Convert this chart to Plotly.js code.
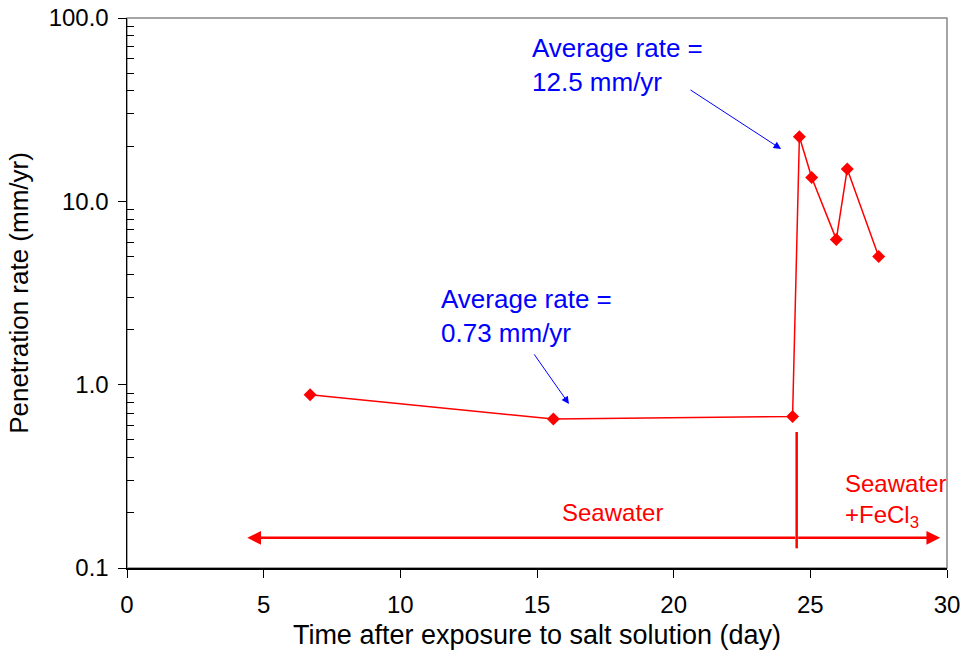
<!DOCTYPE html>
<html>
<head>
<meta charset="utf-8">
<script src="https://cdn.plot.ly/plotly-3.0.1.min.js"></script>
<style>html,body{margin:0;padding:0;background:#fff;}#chart{width:964px;height:659px;}</style>
</head>
<body>
<div id="chart"></div>
<script>
// Data
const days = [6.7, 15.6, 24.35, 24.6, 25.05, 25.95, 26.35, 27.5];
const rates = [0.88, 0.65, 0.67, 22.5, 13.5, 6.2, 15.0, 5.0];
const xTickVals = [0, 5, 10, 15, 20, 25, 30];
const yTickVals = [0.1, 1, 10, 100];
const yTickText = ['0.1', '1.0', '10.0', '100.0'];

// annotation anchor values (data units)
const changeDay = 24.5;
const dividerY = [0.128, 0.552];
const arrowY = 0.146;
const arrowLeftX = 4.4;
const arrowRightX = 29.75;

const L = Math.log10;
const red = '#ff0000';
const blue = '#0000ff';
const fontFam = '"Liberation Sans", Arial, sans-serif';

const traces = [
  {
    x: days, y: rates, type: 'scatter', mode: 'lines+markers',
    line: {color: red, width: 1.5},
    marker: {symbol: 'diamond', size: 10, color: red},
    hoverinfo: 'x+y', showlegend: false
  },
  {
    x: [changeDay, changeDay], y: dividerY, type: 'scatter', mode: 'lines',
    line: {color: red, width: 2.5}, hoverinfo: 'skip', showlegend: false
  }
];

const annotations = [
  // seawater double arrow (left and right parts)
  {x: arrowLeftX, y: L(arrowY), ax: changeDay, ay: L(arrowY), xref: 'x', yref: 'y', axref: 'x', ayref: 'y',
   showarrow: true, arrowhead: 2, arrowsize: 1.1, arrowwidth: 2.5, arrowcolor: red, text: ''},
  {x: arrowRightX, y: L(arrowY), ax: changeDay, ay: L(arrowY), xref: 'x', yref: 'y', axref: 'x', ayref: 'y',
   showarrow: true, arrowhead: 2, arrowsize: 1.1, arrowwidth: 2.5, arrowcolor: red, text: ''},
  {x: 17.75, y: L(0.2), xref: 'x', yref: 'y', text: 'Seawater', showarrow: false,
   font: {color: red, size: 24, family: fontFam}},
  {x: 26.2, y: L(0.233), xref: 'x', yref: 'y', text: 'Seawater<br>+FeCl<sub>3</sub>', showarrow: false,
   xanchor: 'left', align: 'left', font: {color: red, size: 24, family: fontFam}},
  // blue labels
  {x: 14.75, y: L(55.5), xref: 'x', yref: 'y', text: 'Average rate =<br>12.5 mm/yr', showarrow: false,
   xanchor: 'left', align: 'left', font: {color: blue, size: 26, family: fontFam}},
  {x: 11.42, y: L(2.37), xref: 'x', yref: 'y', text: 'Average rate =<br>0.73 mm/yr', showarrow: false,
   xanchor: 'left', align: 'left', font: {color: blue, size: 26, family: fontFam}},
  // blue arrows
  {x: 23.93, y: L(19.3), ax: 20.56, ay: L(41.0), xref: 'x', yref: 'y', axref: 'x', ayref: 'y',
   showarrow: true, arrowhead: 2, arrowsize: 1.5, arrowwidth: 1, arrowcolor: blue, text: ''},
  {x: 16.17, y: L(0.785), ax: 14.86, ay: L(1.49), xref: 'x', yref: 'y', axref: 'x', ayref: 'y',
   showarrow: true, arrowhead: 2, arrowsize: 1.5, arrowwidth: 1, arrowcolor: blue, text: ''}
];

const layout = {
  width: 964, height: 659,
  margin: {l: 127, r: 17, t: 18, b: 91},
  paper_bgcolor: '#fff', plot_bgcolor: '#fff',
  font: {family: fontFam, size: 24, color: '#000'},
  showlegend: false,
  xaxis: {
    range: [0, 30], tickvals: xTickVals, ticks: 'outside', ticklen: 8, tickcolor: '#000',
    ticklabelstandoff: 7,
    showgrid: false, zeroline: false, showline: true, linecolor: '#000', linewidth: 1.5,
    tickfont: {size: 24}, title: {text: 'Time after exposure to salt solution (day)', font: {size: 27}, standoff: 8}
  },
  yaxis: {
    type: 'log', range: [-1, 2], tickvals: yTickVals, ticktext: yTickText,
    ticks: 'outside', ticklen: 8, tickcolor: '#000',
    ticklabelstandoff: 4,
    minor: {tickvals: [0.2,0.3,0.4,0.5,0.6,0.7,0.8,0.9,2,3,4,5,6,7,8,9,20,30,40,50,60,70,80,90],
            ticks: 'inside', ticklen: 7, tickcolor: '#000', showgrid: false},
    showgrid: false, zeroline: false, showline: true, linecolor: '#000', linewidth: 1.5,
    tickfont: {size: 24}, title: {text: 'Penetration rate (mm/yr)', font: {size: 26}, standoff: 12}
  },
  shapes: [
    {type: 'rect', xref: 'paper', yref: 'paper', x0: 0, x1: 1, y0: 0, y1: 1,
     line: {color: '#888', width: 1.5}, layer: 'below'}
  ],
  annotations: annotations
};

Plotly.newPlot('chart', traces, layout, {displayModeBar: false, staticPlot: true});
</script>
</body>
</html>
